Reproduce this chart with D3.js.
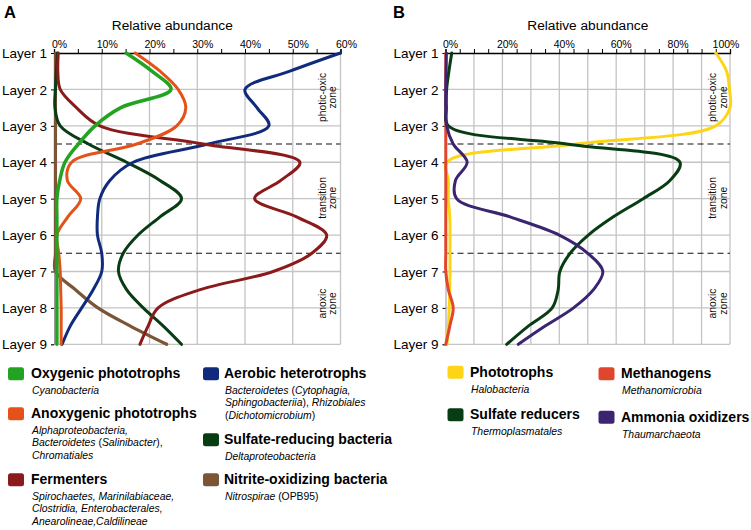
<!DOCTYPE html>
<html><head><meta charset="utf-8">
<script src="https://cdn.jsdelivr.net/npm/d3@7"></script>
<style>body{margin:0;background:#fff;} svg{display:block;font-family:"Liberation Sans",Arial,sans-serif;}</style>
</head><body><svg id="c" width="751" height="530"></svg>
<script>
// ---------- data ----------
const layers = ["Layer 1","Layer 2","Layer 3","Layer 4","Layer 5","Layer 6","Layer 7","Layer 8","Layer 9"];
const depths = [1,1.5,2,2.5,3,3.5,4,4.5,5,5.5,6,6.5,7,7.5,8,8.5,9];
const ticksA = [0,10,20,30,40,50,60];
const ticksB = [0,20,40,60,80,100];
const zoneBounds = [3.5, 6.5];
const zones = [["photic-oxic","zone",2.22],["transition","zone",4.98],["anoxic","zone",7.88]];

// Panel A (bacteria), % relative abundance per depth
const oxygenic   = [15.1,20.5,24.5,14,8.6,5.1,2.3,1.2,0.6,0.6,0.6,0.6,0.6,0.6,0.6,0.6,0.6];
const anoxygenic = [17,22.2,26,27.6,25.7,17.3,3.7,2.8,5.6,2.9,0.6,1.0,1.3,1.4,1.5,1.5,1.5];
const fermenters = [0.9,0.8,1.3,4.7,9.6,31.3,51.5,47.5,42,50.8,57.1,54,45.9,30.6,21.8,19.7,18];
const aerobic    = [60,49.4,40,42.5,45,32.3,16.6,11.7,9.6,9.1,9.1,10,10,8.2,5.8,3.4,1.7];
const sulfateA   = [0.7,0.5,0.3,0.2,1.3,7.2,15.2,22.2,26.7,22.2,17.6,14.5,13.5,15.2,18.7,22.9,26.7];
const nitrite    = [0.3,0.3,0.3,0.3,0.3,0.3,0.3,0.3,0.3,0.3,0.3,0.3,0.3,4.5,9.2,16,23.6];

// Panel B (archaea)
const phototrophs = [95,98.8,99.8,100,95,46,0.5,1,1,1.5,1.6,1.6,1.6,1.5,1.3,1,0.5];
const methanogens = [0.1,0.1,0.1,0.1,0.1,0.1,0.1,0.1,0.1,0.1,0.1,0.1,0.1,1,2.7,1.5,0.1];
const sulfateB    = [2.2,1.2,0.4,0.3,1.0,42.6,82.4,78.9,69.5,59,50.2,43.8,40.2,39.6,37.5,29.1,21.5];
const ammonia     = [0.3,0.2,0.1,0.1,0.4,2.7,7.6,3.5,3.9,22.7,40,50,55.3,52,45,35,25.6];

const seriesA = [
  {name:"Nitrite-oxidizing bacteria", color:"#7a5636", w:3.2, values:nitrite},
  {name:"Sulfate-reducing bacteria", color:"#083d14", w:3, values:sulfateA},
  {name:"Aerobic heterotrophs", color:"#112b7c", w:3, values:aerobic},
  {name:"Fermenters", color:"#8b1b1b", w:3, values:fermenters},
  {name:"Anoxygenic phototrophs", color:"#e4521a", w:3, values:anoxygenic},
  {name:"Oxygenic phototrophs", color:"#22a322", w:3.5, values:oxygenic}
];
const seriesB = [
  {name:"Phototrophs", color:"#fdd514", w:3, values:phototrophs},
  {name:"Methanogens", color:"#e1452b", w:3, values:methanogens},
  {name:"Sulfate reducers", color:"#083d14", w:3, values:sulfateB},
  {name:"Ammonia oxidizers", color:"#3b2470", w:3, values:ammonia}
];

const legendA = [
  {name:"Oxygenic phototrophs", color:"#22a322", col:0, by:378.3, sub:[[["Cyanobacteria",1]]]},
  {name:"Anoxygenic phototrophs", color:"#e4521a", col:0, by:418.3, sub:[[["Alphaproteobacteria,",1]],[["Bacteroidetes",1],[" (",0],["Salinibacter",1],["),",0]],[["Chromatiales",1]]]},
  {name:"Fermenters", color:"#8b1b1b", col:0, by:484.3, sub:[[["Spirochaetes, Marinilabiaceae,",1]],[["Clostridia, Enterobacterales,",1]],[["Anearolineae,Caldilineae",1]]]},
  {name:"Aerobic heterotrophs", color:"#112b7c", col:1, by:378.3, sub:[[["Bacteroidetes",1],[" (",0],["Cytophagia,",1]],[["Sphingobacteriia",1],["), ",0],["Rhizobiales",1]],[["(",0],["Dichotomicrobium",1],[")",0]]]},
  {name:"Sulfate-reducing bacteria", color:"#083d14", col:1, by:444.3, sub:[[["Deltaproteobacteria",1]]]},
  {name:"Nitrite-oxidizing bacteria", color:"#7a5636", col:1, by:484.3, sub:[[["Nitrospirae",1],[" (OPB95)",0]]]}
];
const legendB = [
  {name:"Phototrophs", color:"#fdd514", col:0, by:376.7, sub:[[["Halobacteria",1]]]},
  {name:"Sulfate reducers", color:"#083d14", col:0, by:419.3, sub:[[["Thermoplasmatales",1]]]},
  {name:"Methanogens", color:"#e1452b", col:1, by:378.3, sub:[[["Methanomicrobia",1]]]},
  {name:"Ammonia oxidizers", color:"#3b2470", col:1, by:421.7, sub:[[["Thaumarchaeota",1]]]}
];

// ---------- drawing ----------
const svg = d3.select("#c");
const y = d3.scaleLinear().domain([1,9]).range([53,344.3]);

function panel(cfg){
  const x = d3.scaleLinear().domain([0,cfg.max]).range(cfg.range);
  const g = svg.append("g");
  g.append("text").attr("x",cfg.letterX).attr("y",17.5).attr("font-size",16.5).attr("font-weight","bold").text(cfg.letter);
  g.append("text").attr("x",d3.mean(cfg.range)+cfg.titleDx).attr("y",29.5).attr("text-anchor","middle").attr("font-size",13.7).text("Relative abundance");
  const grid = g.append("g").attr("stroke","#c4c4c4").attr("stroke-width",1.3);
  grid.selectAll("line.v").data(d3.range(cfg.gridStep,cfg.max+0.01,cfg.gridStep)).join("line")
    .attr("x1",d=>x(d)).attr("x2",d=>x(d)).attr("y1",y(1)).attr("y2",y(9));
  grid.selectAll("line.h").data(d3.range(2,10)).join("line").attr("class","h")
    .attr("x1",x(0)).attr("x2",x(cfg.max)).attr("y1",d=>y(d)).attr("y2",d=>y(d));
  g.selectAll("line.z").data(zoneBounds).join("line").attr("class","z")
    .attr("x1",x(0)+2).attr("x2",x(cfg.max)).attr("y1",d=>y(d)).attr("y2",d=>y(d))
    .attr("stroke","#111").attr("stroke-width",1.1).attr("stroke-dasharray","6,4");
  zones.forEach(z=>{
    [z[0],z[1]].forEach((t,i)=>{
      g.append("text").attr("transform",`translate(${cfg.zoneX+i*10.6},${y(z[2])}) rotate(-90)`)
        .attr("text-anchor","middle").attr("font-size",10.3).attr("fill","#111").text(t);
    });
  });
  const ax = g.append("g").attr("transform",`translate(0,${y(1)})`)
    .call(d3.axisTop(x).tickValues(d3.range(0,cfg.max+0.01,5)).tickSize(4).tickFormat(""));
  ax.select(".domain").attr("stroke","#000").attr("stroke-width",1.3);
  ax.selectAll(".tick line").attr("stroke","#000").attr("stroke-width",1);
  g.selectAll("text.tl").data(cfg.ticks).join("text").attr("class","tl")
    .attr("x",(d,i)=>x(d)+(i===cfg.ticks.length-1?cfg.lastDx:cfg.labelDx)).attr("y",47.5)
    .attr("text-anchor","middle").attr("font-size",10.5).text(d=>d+"%");
  const ay = g.append("g").attr("transform",`translate(${x(0)},0)`)
    .call(d3.axisLeft(y).tickValues(d3.range(1,10)).tickSize(3).tickPadding(4).tickFormat((d,i)=>layers[i]));
  ay.select(".domain").attr("stroke","#999").attr("stroke-width",1);
  ay.selectAll(".tick line").attr("stroke","#000");
  ay.selectAll(".tick text").attr("font-size",13.5).attr("font-family","Liberation Sans, Arial, sans-serif").attr("fill","#000").attr("dy","0.34em");
  const line = d3.line().x(d=>x(d[1])).y(d=>y(d[0])).curve(d3.curveCatmullRom.alpha(0.5));
  g.selectAll("path.s").data(cfg.series).join("path").attr("class","s")
    .attr("d",s=>line(depths.map((dp,i)=>[dp,s.values[i]])))
    .attr("fill","none").attr("stroke",s=>s.color).attr("stroke-width",s=>s.w)
    .attr("stroke-linecap","round").attr("stroke-linejoin","round");
}

panel({letter:"A",letterX:4,titleDx:-25,max:60,range:[54,340.5],gridStep:10,ticks:ticksA,labelDx:5.5,lastDx:6,zoneX:325.5,series:seriesA});
panel({letter:"B",letterX:393,titleDx:0,max:100,range:[445.5,730],gridStep:10,ticks:ticksB,labelDx:5,lastDx:-4,zoneX:716,series:seriesB});

function legend(items, cols){
  items.forEach(it=>{
    const c = cols[it.col];
    svg.append("rect").attr("x",c.sx).attr("y",it.by-11).attr("width",16).attr("height",13)
      .attr("rx",2.5).attr("fill",it.color);
    svg.append("text").attr("x",c.tx).attr("y",it.by).attr("font-size",14).attr("font-weight","bold").text(it.name);
    it.sub.forEach((ln,li)=>{
      const t = svg.append("text").attr("x",c.tx+1).attr("y",it.by+15.8+li*12.2).attr("font-size",10.4);
      ln.forEach(seg=>t.append("tspan").attr("font-style",seg[1]?"italic":"normal").text(seg[0]));
    });
  });
}
legend(legendA,[{sx:8,tx:31},{sx:203,tx:224}]);
legend(legendB,[{sx:447.5,tx:470},{sx:598.5,tx:621}]);
</script></body></html>
